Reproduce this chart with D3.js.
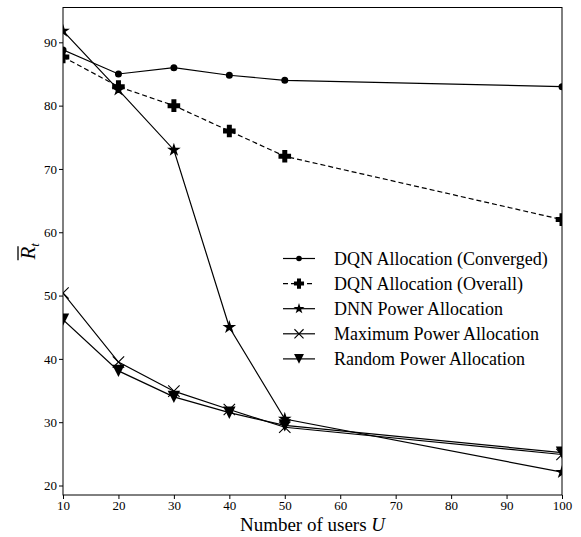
<!DOCTYPE html>
<html>
<head>
<meta charset="utf-8">
<script src="https://cdn.jsdelivr.net/npm/d3@7"></script>
<style>
  html, body { margin: 0; padding: 0; background: #fff; }
  svg { display: block; font-family: "Liberation Serif", "Times New Roman", serif; }
</style>
</head>
<body>
<svg id="chart" width="581" height="537"></svg>
<script>
// Number of users on the x axis
const users = [10, 20, 30, 40, 50, 100];

// Average rate per scheme
const dqnConverged = [88.8, 85.0, 86.0, 84.8, 84.0, 83.0];
const dqnOverall   = [87.7, 83.0, 80.0, 76.0, 72.0, 62.0];
const dnnPower     = [91.8, 82.5, 73.0, 45.0, 30.5, 22.1];
const maxPower     = [50.4, 39.5, 34.9, 32.0, 29.2, 24.9];
const randomPower  = [46.2, 38.1, 34.0, 31.5, 29.5, 25.2];

const seriesNames = [
  "DQN Allocation (Converged)",
  "DQN Allocation (Overall)",
  "DNN Power Allocation",
  "Maximum Power Allocation",
  "Random Power Allocation"
];

const xTicks = [10, 20, 30, 40, 50, 60, 70, 80, 90, 100];
const yTicks = [20, 30, 40, 50, 60, 70, 80, 90];

const series = [
  { name: seriesNames[0], values: dqnConverged, marker: "circle",  dash: null },
  { name: seriesNames[1], values: dqnOverall,   marker: "plus",    dash: "5,3" },
  { name: seriesNames[2], values: dnnPower,     marker: "star",    dash: null },
  { name: seriesNames[3], values: maxPower,     marker: "x",       dash: null },
  { name: seriesNames[4], values: randomPower,  marker: "tridown", dash: null }
];

const svg = d3.select("#chart");
const margin = { left: 63, right: 19, top: 7.5, bottom: 42 };
const W = 581, H = 537;
const x = d3.scaleLinear().domain([10, 100]).range([margin.left, W - margin.right]);
const y = d3.scaleLinear().domain([18.5, 95.5]).range([H - margin.bottom, margin.top]);

// Marker drawing; k scales the marker (legend uses smaller ones)
function drawMarker(g, type, cx, cy, k = 1) {
  if (type === "circle") {
    g.append("circle").attr("cx", cx).attr("cy", cy).attr("r", 3.5 * k).attr("fill", "#000");
  } else if (type === "plus") {
    const a = 6.3 * k, b = 2.5 * k;
    const p = `M${cx - b},${cy - a}H${cx + b}V${cy - b}H${cx + a}V${cy + b}H${cx + b}V${cy + a}H${cx - b}V${cy + b}H${cx - a}V${cy - b}H${cx - b}Z`;
    g.append("path").attr("d", p).attr("fill", "#000");
  } else if (type === "star") {
    const star = d3.symbol().type(d3.symbolStar).size(58 * k * k);
    g.append("path").attr("d", star()).attr("transform", `translate(${cx},${cy})`).attr("fill", "#000");
  } else if (type === "x") {
    const s = 5.7 * k;
    g.append("path")
      .attr("d", `M${cx - s},${cy - s}L${cx + s},${cy + s}M${cx - s},${cy + s}L${cx + s},${cy - s}`)
      .attr("stroke", "#000").attr("stroke-width", 1.1).attr("fill", "none");
  } else if (type === "tridown") {
    const w = 6.2 * k, h = 6.2 * k;
    g.append("path")
      .attr("d", `M${cx - w},${cy - h}L${cx + w},${cy - h}L${cx},${cy + h}Z`)
      .attr("fill", "#000");
  }
}

// Clip to plot area
svg.append("defs").append("clipPath").attr("id", "plotclip")
  .append("rect")
  .attr("x", margin.left).attr("y", margin.top)
  .attr("width", W - margin.left - margin.right)
  .attr("height", H - margin.top - margin.bottom);

const line = d3.line().x(d => x(d[0])).y(d => y(d[1]));
const plot = svg.append("g").attr("clip-path", "url(#plotclip)");

series.forEach(s => {
  const pts = users.map((u, i) => [u, s.values[i]]);
  plot.append("path")
    .attr("d", line(pts))
    .attr("fill", "none")
    .attr("stroke", "#000")
    .attr("stroke-width", 1.2)
    .attr("stroke-dasharray", s.dash);
  const mg = plot.append("g");
  pts.forEach(p => drawMarker(mg, s.marker, x(p[0]), y(p[1])));
});

// Axes
const xAxis = d3.axisBottom(x).tickValues(xTicks).tickSize(4).tickPadding(1.5);
const yAxis = d3.axisLeft(y).tickValues(yTicks).tickSize(4).tickPadding(2);

const gx = svg.append("g").attr("transform", `translate(0,${H - margin.bottom})`).call(xAxis);
const gy = svg.append("g").attr("transform", `translate(${margin.left},0)`).call(yAxis);
[gx, gy].forEach(g => {
  g.select(".domain").remove();
  g.selectAll("text").attr("font-size", 13).attr("font-family", "Liberation Serif").attr("fill", "#000");
  g.selectAll("line").attr("stroke", "#000").attr("stroke-width", 1);
});

// Frame
svg.append("rect")
  .attr("x", margin.left).attr("y", margin.top)
  .attr("width", W - margin.left - margin.right)
  .attr("height", H - margin.top - margin.bottom)
  .attr("fill", "none").attr("stroke", "#000").attr("stroke-width", 1);

// X label
const xl = svg.append("text")
  .attr("x", (x(10) + x(100)) / 2).attr("y", 530.5)
  .attr("text-anchor", "middle").attr("font-size", 19).attr("fill", "#000");
xl.append("tspan").text("Number of users ");
xl.append("tspan").attr("font-style", "italic").text("U");

// Y label: R with overline and subscript t
const yl = svg.append("g").attr("transform", `translate(35,${(margin.top + H - margin.bottom) / 2}) rotate(-90)`);
const yt = yl.append("text").attr("text-anchor", "middle").attr("font-size", 21).attr("fill", "#000");
yt.append("tspan").attr("font-style", "italic").text("R");
yt.append("tspan").attr("font-style", "italic").attr("font-size", 13).attr("dy", 4).text("t");
yl.append("line").attr("x1", -9).attr("x2", 5).attr("y1", -17).attr("y2", -17)
  .attr("stroke", "#000").attr("stroke-width", 1.3);

// Legend
const legend = svg.append("g");
const lx = 283, ly0 = 258.5, dy = 25.1;
series.forEach((s, i) => {
  const yy = ly0 + i * dy;
  legend.append("line")
    .attr("x1", lx).attr("x2", lx + 32).attr("y1", yy).attr("y2", yy)
    .attr("stroke", "#000").attr("stroke-width", 1.2)
    .attr("stroke-dasharray", s.dash);
  drawMarker(legend, s.marker, lx + 16, yy, 0.8);
  legend.append("text")
    .attr("x", lx + 51).attr("y", yy).attr("dy", "0.35em")
    .attr("font-size", 18).attr("fill", "#000").text(s.name);
});
</script>
</body>
</html>
